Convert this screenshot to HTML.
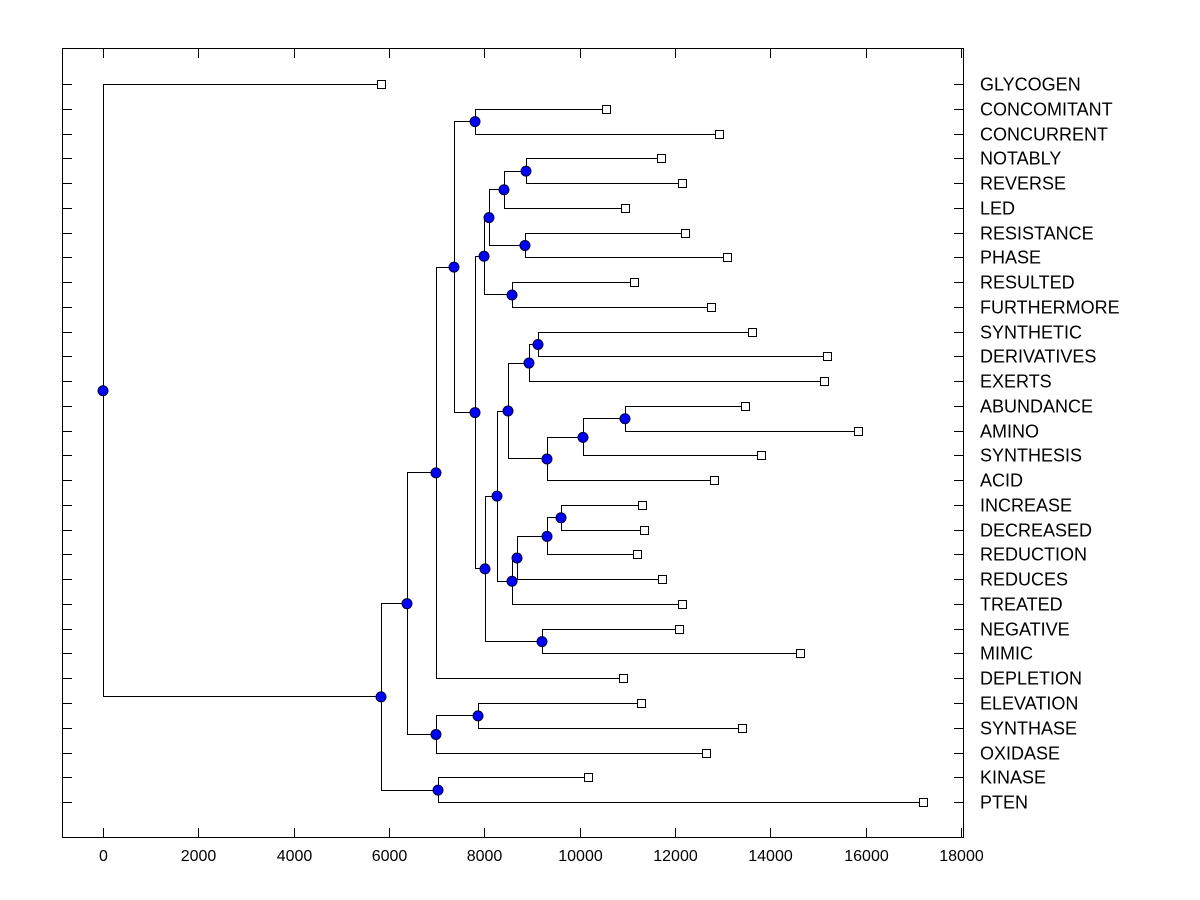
<!DOCTYPE html>
<html><head><meta charset="utf-8"><style>
body{margin:0;background:#fff}
svg{display:block;font-family:"Liberation Sans",Arial,sans-serif}
</style></head><body>
<svg id="chart" width="1200" height="900">
<rect x="62.5" y="48.5" width="901" height="789" fill="none" stroke="#000"/>
<g id="ticks"></g><g id="links"></g><g id="marks"></g><g id="labels"></g>
</svg>
<script>
const leafLabels=["GLYCOGEN","CONCOMITANT","CONCURRENT","NOTABLY","REVERSE","LED","RESISTANCE","PHASE","RESULTED","FURTHERMORE","SYNTHETIC","DERIVATIVES","EXERTS","ABUNDANCE","AMINO","SYNTHESIS","ACID","INCREASE","DECREASED","REDUCTION","REDUCES","TREATED","NEGATIVE","MIMIC","DEPLETION","ELEVATION","SYNTHASE","OXIDASE","KINASE","PTEN"];
const leafHeights=[5832,10552,12922,11705,12146,10950,12209,13090,11139,12754,13614,15188,15125,13467,15838,13803,12817,11307,11349,11202,11727,12146,12083,14621,10908,11286,13405,12650,10174,17202];
const mergeLeft=[3,30,6,31,8,33,1,10,37,13,39,40,38,17,43,44,45,42,22,47,35,36,51,25,53,52,28,55,0];
const mergeRight=[4,5,7,32,9,34,2,11,12,14,15,16,41,18,19,20,21,46,23,48,49,50,24,26,27,54,29,56,57];
const mergeHeights=[8873,8412,8852,8097,8580,7993,7804,9125,8936,10950,10069,9314,8496,9608,9314,8685,8580,8265,9209,8013,7804,7363,6985,7867,6985,6377,7028,5832,0];
const xTicks=[0,2000,4000,6000,8000,10000,12000,14000,16000,18000];

const NS="http://www.w3.org/2000/svg";
const X0=103,KX=0.04767,Y0=84,DY=24.76;
const xs=v=>X0+v*KX;
const ys=i=>Y0+i*DY;
function mk(tag,attrs,parent){const e=document.createElementNS(NS,tag);for(const k in attrs)e.setAttribute(k,attrs[k]);document.getElementById(parent).appendChild(e);return e;}

xTicks.forEach(t=>{
  const x=Math.round(xs(t))+0.5;
  let e=mk('line',{x1:x,x2:x,y1:838,y2:828,stroke:'#000'},'ticks');
  
  
  e=mk('line',{x1:x,x2:x,y1:48,y2:58,stroke:'#000'},'ticks');
  
  
  e=mk('text',{x:x,y:861,'text-anchor':'middle','font-size':16},'labels');
  e.textContent=t;
  
  
});

const px=[],py=[];
leafLabels.forEach((l,i)=>{
  px[i]=xs(leafHeights[i]);py[i]=ys(i);
  const y=Math.round(py[i])+0.5;
  let e=mk('line',{x1:62,x2:72,y1:y,y2:y,stroke:'#000'},'ticks');
  
  
  e=mk('line',{x1:954,x2:964,y1:y,y2:y,stroke:'#000'},'ticks');
  
  
  e=mk('text',{x:980,y:y+6,'font-size':18},'labels');
  e.textContent=l;
  
  
});
mergeHeights.forEach((h,k)=>{
  const n=leafLabels.length+k,a=mergeLeft[k],b=mergeRight[k];
  px[n]=xs(h);py[n]=(py[a]+py[b])/2;
  const x=Math.round(px[n])+0.5;
  let e=mk('path',{d:`M${px[a]},${Math.round(py[a])+0.5}H${x}V${Math.round(py[b])+0.5}H${px[b]}`,fill:'none',stroke:'#000'},'links');
  
  
});
leafLabels.forEach((l,i)=>{
  const e=mk('rect',{x:Math.round(px[i])-4+0.5,y:Math.round(py[i])-4+0.5,width:8,height:8,fill:'#fff',stroke:'#000'},'marks');
  
  
});
mergeHeights.forEach((h,k)=>{
  const n=leafLabels.length+k;
  const e=mk('circle',{cx:px[n],cy:py[n]+0.5,r:5,fill:'#0000ff',stroke:'#000033'},'marks');
  
  
});
</script>
</body></html>
